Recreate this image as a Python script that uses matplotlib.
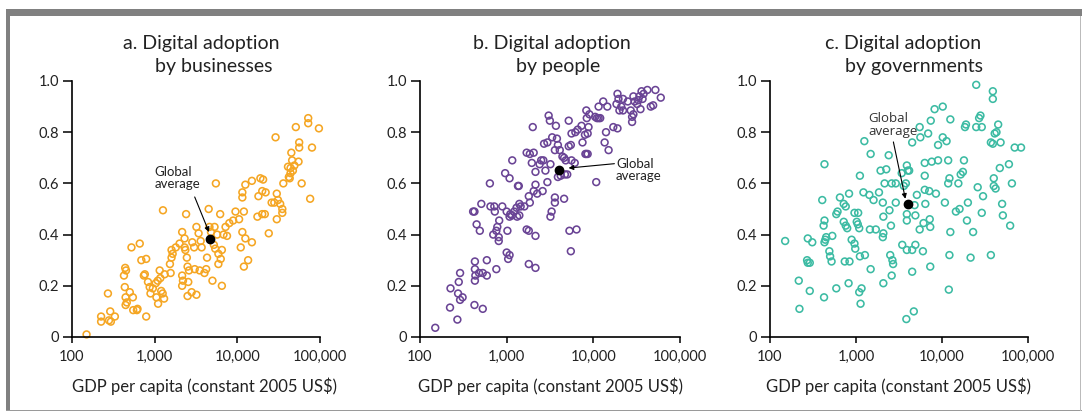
import matplotlib.pyplot as plt
from matplotlib.patches import Rectangle
from matplotlib.ticker import FixedLocator, FixedFormatter, NullLocator

plt.rcParams['font.family'] = ['Lato', 'DejaVu Sans']

# a. businesses
gdp_a = [150, 225, 225, 272, 290, 295, 330, 280, 524, 660, 425, 440, 450, 435, 445, 445,
         500, 545, 460, 550, 610, 620, 790, 690, 790, 740, 760, 830, 870, 890, 950, 1050,
         1100, 1030, 1090, 1150, 1170, 1200, 1250, 1300, 1260, 1320, 1560, 1530, 1600, 1650,
         1600, 1800, 2000, 2150, 2150, 2200, 2150, 2300, 2300, 2350, 2400, 2450, 2550, 2500,
         2600, 2500, 2800, 3200, 2850, 3000, 3050, 3500, 3200, 3400, 3700, 3600, 4000, 4200,
         4500, 4600, 4300, 4800, 5000, 5200, 5400, 5500, 5300, 5700, 5900, 6200, 6500, 6500,
         5900, 6300, 6800, 7200, 7500, 8000, 8900, 9500, 10500, 11000, 11500, 12000, 12500,
         12000, 11500, 11500, 12500, 13500, 15000, 18000, 15000, 19000, 20000, 20500, 17500,
         20000, 21500, 24000, 22000, 26000, 28000, 30000, 31000, 33000, 35000, 35000, 30000,
         29000, 36000, 41000, 42000, 44000, 47000, 49000, 45000, 46000, 51000, 56000, 56000,
         55000, 60000, 72000, 72000, 80000, 97000, 76000, 44000, 43000]
adopt_a = [0.01, 0.08, 0.06, 0.17, 0.10, 0.06, 0.08, 0.065, 0.35, 0.365, 0.24, 0.27, 0.26,
           0.195, 0.155, 0.125, 0.175, 0.155, 0.135, 0.105, 0.105, 0.11, 0.08, 0.30, 0.305,
           0.24, 0.245, 0.215, 0.195, 0.17, 0.19, 0.155, 0.13, 0.21, 0.22, 0.26, 0.23, 0.18,
           0.17, 0.15, 0.495, 0.245, 0.25, 0.285, 0.31, 0.325, 0.34, 0.35, 0.365, 0.24, 0.20,
           0.22, 0.41, 0.385, 0.35, 0.34, 0.48, 0.31, 0.215, 0.275, 0.26, 0.16, 0.175, 0.165,
           0.37, 0.35, 0.265, 0.26, 0.43, 0.405, 0.35, 0.375, 0.25, 0.265, 0.50, 0.43, 0.31,
           0.41, 0.22, 0.36, 0.345, 0.60, 0.43, 0.40, 0.325, 0.48, 0.34, 0.20, 0.285, 0.305,
           0.40, 0.43, 0.395, 0.445, 0.455, 0.49, 0.46, 0.35, 0.41, 0.49, 0.385, 0.275, 0.545,
           0.565, 0.595, 0.30, 0.37, 0.55, 0.61, 0.62, 0.57, 0.615, 0.47, 0.48, 0.48, 0.405,
           0.565, 0.525, 0.525, 0.56, 0.535, 0.52, 0.50, 0.485, 0.46, 0.78, 0.60, 0.665, 0.625,
           0.64, 0.65, 0.67, 0.72, 0.69, 0.82, 0.76, 0.74, 0.685, 0.60, 0.855, 0.835, 0.74,
           0.815, 0.54, 0.66, 0.62]

# b. people
gdp_b = [150, 222, 225, 270, 275, 280, 290, 290, 310, 425, 530, 430, 430, 435, 430, 480,
         530, 590, 590, 760, 410, 425, 450, 490, 510, 640, 650, 720, 730, 700, 760, 780, 820,
         810, 810, 890, 960, 1000, 1080, 1020, 1000, 1040, 1080, 1080, 1100, 1150, 1160, 1220,
         1300, 1320, 1350, 1380, 1400, 1450, 1600, 1400, 1700, 1700, 1850, 1800, 1850, 1800,
         1800, 2000, 2050, 1950, 2050, 2150, 2150, 2150, 2150, 2250, 2400, 2500, 2600, 2650,
         2800, 2700, 2950, 3050, 3150, 2950, 3200, 3350, 3700, 3600, 3600, 3600, 3300, 3200,
         3800, 3900, 4100, 3900, 4200, 4400, 4600, 4600, 4700, 5000, 4800, 5200, 5200, 5500,
         5300, 5500, 5600, 5600, 6100, 6400, 6200, 6600, 7300, 7500, 8000, 8100, 8300, 8600,
         8600, 8800, 8400, 9000, 8300, 10500, 11000, 11500, 12000, 10800, 11500, 13500, 14000,
         13000, 14500, 15000, 17000, 19000, 18500, 19000, 19500, 20000, 22000, 22000, 21000,
         25000, 27000, 28000, 28000, 29000, 30000, 32000, 33000, 34000, 36000, 37000, 35000,
         38000, 42000, 46000, 49000, 52000, 60000, 29000]
adopt_b = [0.036, 0.115, 0.19, 0.068, 0.17, 0.215, 0.25, 0.145, 0.155, 0.125, 0.11, 0.295,
           0.265, 0.24, 0.22, 0.25, 0.25, 0.24, 0.30, 0.265, 0.49, 0.49, 0.44, 0.415, 0.52,
           0.60, 0.51, 0.51, 0.49, 0.40, 0.415, 0.43, 0.455, 0.39, 0.375, 0.51, 0.64, 0.49,
           0.62, 0.415, 0.33, 0.305, 0.32, 0.47, 0.48, 0.475, 0.69, 0.49, 0.505, 0.47, 0.59,
           0.59, 0.52, 0.51, 0.51, 0.475, 0.42, 0.72, 0.715, 0.55, 0.525, 0.285, 0.415, 0.82,
           0.72, 0.68, 0.57, 0.595, 0.395, 0.27, 0.645, 0.56, 0.675, 0.69, 0.57, 0.69, 0.65,
           0.755, 0.76, 0.865, 0.845, 0.605, 0.675, 0.78, 0.825, 0.73, 0.545, 0.525, 0.49,
           0.47, 0.775, 0.75, 0.73, 0.625, 0.63, 0.705, 0.70, 0.54, 0.635, 0.635, 0.69, 0.745,
           0.845, 0.75, 0.415, 0.335, 0.69, 0.795, 0.68, 0.42, 0.80, 0.81, 0.825, 0.76, 0.79,
           0.715, 0.715, 0.715, 0.795, 0.82, 0.855, 0.87, 0.885, 0.86, 0.855, 0.855, 0.855,
           0.605, 0.90, 0.76, 0.80, 0.92, 0.90, 0.73, 0.82, 0.815, 0.91, 0.95, 0.93, 0.885,
           0.885, 0.93, 0.90, 0.92, 0.885, 0.84, 0.86, 0.94, 0.92, 0.91, 0.925, 0.94, 0.96,
           0.93, 0.89, 0.95, 0.965, 0.90, 0.905, 0.965, 0.935, 0.87]

# c. governments
gdp_c = [150, 216, 220, 275, 310, 270, 275, 290, 290, 405, 430, 430, 420, 450, 430, 440,
         530, 425, 490, 500, 520, 590, 590, 610, 650, 720, 760, 720, 760, 790, 740, 840, 830,
         820, 890, 960, 980, 960, 1060, 1020, 1050, 1090, 1110, 1110, 1160, 1090, 1130, 1270,
         1220, 1250, 1430, 1480, 1450, 1480, 1600, 1700, 1850, 1930, 2050, 2080, 2080, 2050,
         2080, 2150, 2250, 2400, 2450, 2500, 2600, 2550, 2650, 2700, 2600, 2900, 2900, 3400,
         3450, 3600, 3800, 3900, 4000, 4150, 3900, 3900, 3900, 3850, 4500, 4700, 4500, 4500,
         4900, 4900, 4800, 5100, 5500, 5600, 5500, 6000, 6300, 6300, 6300, 6400, 6100, 6900,
         7100, 7200, 7300, 7300, 7400, 7600, 8500, 8200, 9000, 9000, 10200, 10200, 10800,
         11300, 11800, 11800, 12000, 12200, 12200, 12500, 12500, 14500, 15500, 16000, 16500,
         17500, 18000, 18500, 19000, 19500, 20000, 21500, 23000, 25000, 25000, 26000, 27000,
         28000, 29000, 29000, 30000, 37000, 37000, 39000, 39000, 39000, 40000, 40000, 42000,
         41000, 43000, 45000, 48000, 47000, 50000, 51000, 60000, 62000, 65000, 70000, 83000]
adopt_c = [0.375, 0.22, 0.11, 0.385, 0.37, 0.30, 0.29, 0.29, 0.18, 0.535, 0.675, 0.455,
           0.435, 0.39, 0.37, 0.38, 0.395, 0.155, 0.335, 0.315, 0.295, 0.19, 0.48, 0.49,
           0.545, 0.52, 0.51, 0.45, 0.435, 0.425, 0.295, 0.295, 0.56, 0.21, 0.38, 0.365,
           0.345, 0.485, 0.485, 0.45, 0.44, 0.425, 0.63, 0.315, 0.19, 0.175, 0.13, 0.32,
           0.565, 0.765, 0.555, 0.715, 0.42, 0.265, 0.535, 0.42, 0.565, 0.65, 0.525, 0.47,
           0.405, 0.39, 0.21, 0.60, 0.655, 0.71, 0.495, 0.32, 0.60, 0.435, 0.30, 0.285, 0.24,
           0.60, 0.525, 0.64, 0.36, 0.59, 0.60, 0.67, 0.65, 0.65, 0.48, 0.455, 0.34, 0.07,
           0.34, 0.10, 0.255, 0.76, 0.36, 0.475, 0.515, 0.555, 0.82, 0.78, 0.42, 0.335, 0.68,
           0.63, 0.575, 0.52, 0.445, 0.795, 0.57, 0.46, 0.43, 0.275, 0.845, 0.685, 0.56, 0.89,
           0.75, 0.69, 0.90, 0.78, 0.525, 0.765, 0.69, 0.60, 0.185, 0.62, 0.32, 0.41, 0.85,
           0.49, 0.60, 0.50, 0.635, 0.645, 0.69, 0.82, 0.83, 0.455, 0.525, 0.31, 0.41, 0.985,
           0.82, 0.585, 0.855, 0.865, 0.82, 0.485, 0.55, 0.32, 0.76, 0.755, 0.96, 0.93, 0.62,
           0.59, 0.58, 0.795, 0.80, 0.83, 0.76, 0.66, 0.52, 0.475, 0.675, 0.435, 0.60, 0.74,
           0.74]

avg_gdp = [4700, 4040, 4060]
avg_adopt = [0.383, 0.651, 0.518]

titles = [('a. Digital adoption', 'by businesses'),
          ('b. Digital adoption', 'by people'),
          ('c. Digital adoption', 'by governments')]
colors = ['#F5A623', '#6A4495', '#3CBBA3']

x_ticks = [100, 1000, 10000, 100000]
x_labels = ['100', '1,000', '10,000', '100,000']
y_ticks = [0, 0.2, 0.4, 0.6, 0.8, 1.0]
y_labels = ['0', '0.2', '0.4', '0.6', '0.8', '1.0']

W, H = 1082, 412
fig = plt.figure(figsize=(W / 100, H / 100), dpi=100)

# frame around the figure
fig.add_artist(Rectangle((6 / W, 1 - 16 / H), 1 - 6 / W, 7 / H, transform=fig.transFigure,
                         color='#808080', lw=0))
fig.add_artist(Rectangle((6 / W, 1 - 411 / H), 4 / W, 402 / H, transform=fig.transFigure,
                         color='#808080', lw=0))
fig.add_artist(Rectangle((6 / W, 1 - 411 / H), 1 - 6 / W, 1 / H, transform=fig.transFigure,
                         color='#9a9a9a', lw=0))
fig.add_artist(Rectangle((1080 / W, 1 - 411 / H), 1 / W, 395 / H, transform=fig.transFigure,
                         color='#bbbbbb', lw=0))

# axes placement in pixels: left, right
panels = [(72, 320), (420, 680), (770, 1028)]
top, bottom = 81, 337
title_x = [(0.52, 0.57), (0.508, 0.53), (0.516, 0.56)]
xlabel_x = [0.536, 0.5, 0.5]
data = [(gdp_a, adopt_a), (gdp_b, adopt_b), (gdp_c, adopt_c)]

axes = []
for i, (l, r) in enumerate(panels):
    ax = fig.add_axes([l / W, 1 - bottom / H, (r - l) / W, (bottom - top) / H])
    axes.append(ax)
    gx, gy = data[i]
    ax.scatter(gx, gy, s=24, facecolors='none', edgecolors=colors[i], linewidths=1.15,
               zorder=2, clip_on=False)
    ax.scatter([avg_gdp[i]], [avg_adopt[i]], s=36, color='black', zorder=4)
    ax.set_xscale('log')
    ax.set_xlim(100, 100000)
    ax.set_ylim(0, 1.0)
    ax.xaxis.set_major_locator(FixedLocator(x_ticks))
    ax.xaxis.set_major_formatter(FixedFormatter(x_labels))
    ax.xaxis.set_minor_locator(NullLocator())
    ax.yaxis.set_major_locator(FixedLocator(y_ticks))
    ax.yaxis.set_major_formatter(FixedFormatter(y_labels))
    for s in ['top', 'right']:
        ax.spines[s].set_visible(False)
    for s in ['left', 'bottom']:
        ax.spines[s].set_linewidth(1.2)
        ax.spines[s].set_color('black')
    ax.tick_params(axis='y', direction='out', length=6.5, width=1.1, pad=3,
                   labelsize=10.5, labelcolor='#222222')
    ax.tick_params(axis='x', direction='out', length=4.5, width=1.1, pad=5,
                   labelsize=10.5, labelcolor='#222222')
    ax.set_xlabel('GDP per capita (constant 2005 US$)', fontsize=12, color='#222222')
    ax.xaxis.set_label_coords(xlabel_x[i], -0.16)
    ax.text(title_x[i][0], 1.148, titles[i][0], transform=ax.transAxes, ha='center',
            va='center', fontsize=14, color='#222222')
    ax.text(title_x[i][1], 1.055, titles[i][1], transform=ax.transAxes, ha='center',
            va='center', fontsize=14, color='#222222')

arrow = dict(arrowstyle='-|>', color='black', lw=0.8, mutation_scale=7, shrinkA=0, shrinkB=0)

axes[0].text(1000, 0.622, 'Global\naverage', ha='left', va='center', fontsize=9.5,
             color='#222222', linespacing=1.0)
axes[0].annotate('', xy=(4540, 0.41), xytext=(3050, 0.547), arrowprops=arrow)

axes[1].text(18300, 0.653, 'Global\naverage', ha='left', va='center', fontsize=9.5,
             color='#222222', linespacing=1.0)
axes[1].annotate('', xy=(5180, 0.66), xytext=(17500, 0.677), arrowprops=arrow)

axes[2].text(1390, 0.827, 'Global\naverage', ha='left', va='center', fontsize=9.5,
             color='#333333', linespacing=1.0, family=['Open Sans', 'DejaVu Sans'])
axes[2].annotate('', xy=(3750, 0.54), xytext=(2720, 0.762), arrowprops=arrow)

fig.savefig('out.png', dpi=100)
